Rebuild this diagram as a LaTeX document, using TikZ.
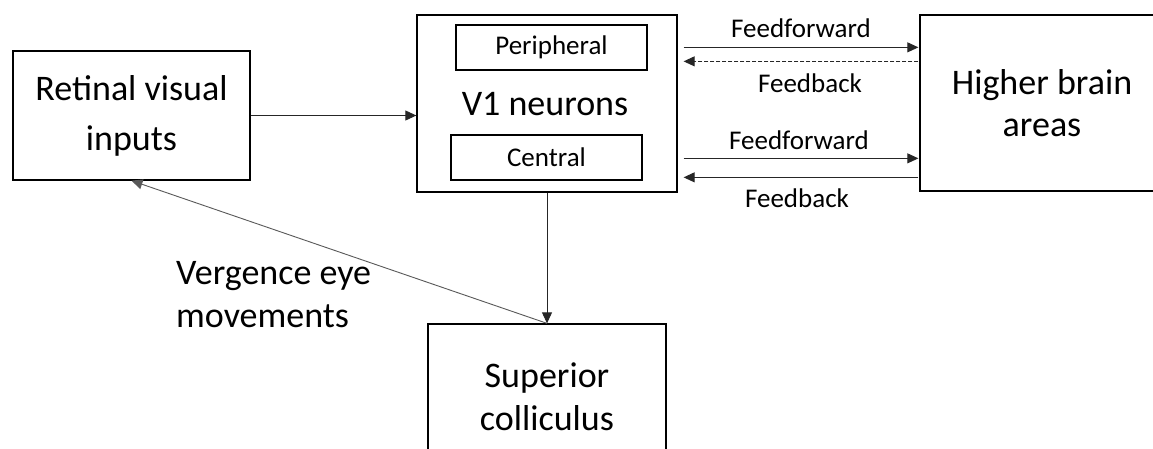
\documentclass[tikz,border=0pt]{standalone}
\usepackage{fontspec}
\setmainfont{Carlito}
\usetikzlibrary{arrows.meta,calc}

\tikzset{
  bigbox/.style={draw, line width=1.3pt, inner sep=0pt, align=center,
    font=\fontsize{36}{42}\selectfont},
  subbox/.style={draw, line width=1.2pt, inner sep=0pt,
    minimum width=191, minimum height=45, font=\fontsize{27}{32}\selectfont},
  lbl/.style={inner sep=0pt, font=\fontsize{27}{32}\selectfont},
  conn/.style={->, line width=0.9pt, black!85},
}

\begin{document}
\begin{tikzpicture}[x=1pt, y=-1pt, >={Triangle[length=11pt,width=10pt]}]
    \clip (0,0) rectangle (1153,448);
    \fill[white] (0,0) rectangle (1153,448);

    % boxes
    \node[bigbox, minimum width=237, minimum height=129, font=\fontsize{36}{50}\selectfont]
      (retinal) at (131.5,115.5) {Retinal visual\\inputs};
    \node[bigbox, minimum width=260, minimum height=177] (v1) at (547,103.5) {};
    \node[inner sep=0pt, font=\fontsize{36}{42}\selectfont] (v1txt) at (545,104) {V1 neurons};
    \node[subbox] (periph) at (551.5,47.5) {Peripheral};
    \node[subbox] (central) at (546.5,157.5) {Central};
    \node[bigbox, minimum width=244, minimum height=176] (higher) at (1042,103) {Higher brain\\areas};
    \node[bigbox, minimum width=238, minimum height=146, font=\fontsize{36}{40}\selectfont]
      (sup) at (547,397) {\raisebox{3pt}{Superior}\\colliculus};

    % retina -> V1 -> SC -> retina
    \draw[conn] (retinal.east) -- (retinal.east -| v1.west);
    \draw[conn] (v1.south) -- (sup.north);
    \draw[conn, black!65] (sup.north) -- (retinal.south);
    \node[lbl, align=left, anchor=north west, font=\fontsize{36}{43}\selectfont]
      (verg) at (176,261) {Vergence eye\\movements};

    % V1 <-> higher areas
    \draw[conn] ($(v1.north east)+(6,33)$) -- ($(higher.north west)+(-1,33)$);
    \draw[conn, dashed, dash pattern=on 4pt off 2pt] ($(higher.north west)+(-1,47)$) -- ($(v1.north east)+(6,47)$);
    \draw[conn] ($(v1.north east)+(6,144)$) -- ($(higher.north west)+(-1,144)$);
    \draw[conn] ($(higher.north west)+(-1,163)$) -- ($(v1.north east)+(6,163)$);
    \node[lbl] (ff1) at (801,28) {Feedforward};
    \node[lbl] (fb1) at (810,83) {Feedback};
    \node[lbl] (ff2) at (799,140) {Feedforward};
    \node[lbl] (fb2) at (797,198) {Feedback};
\end{tikzpicture}
\end{document}
